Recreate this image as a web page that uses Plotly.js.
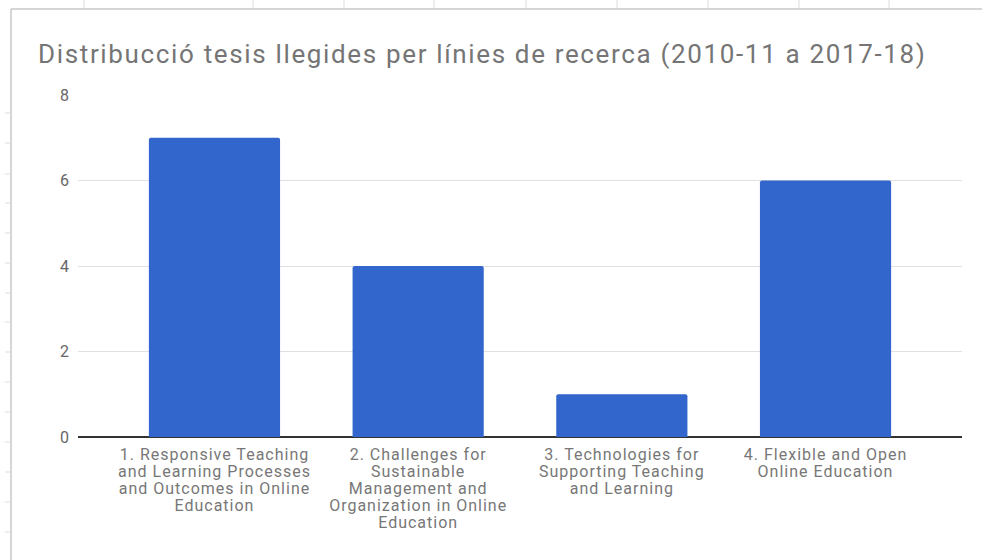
<!DOCTYPE html>
<html>
<head>
<meta charset="utf-8">
<script src="https://cdn.plot.ly/plotly-3.0.1.min.js"></script>
<style>
html,body{margin:0;padding:0;background:#fff;}
#chart{width:982px;height:560px;}
#chart .gtitle{letter-spacing:1.65px;}
#chart .xtick text{letter-spacing:1px;}
</style>
</head>
<body>
<div id="chart"></div>
<script>
const categories = [
  "1. Responsive Teaching<br>and Learning Processes<br>and Outcomes in Online<br>Education",
  "2. Challenges for<br>Sustainable<br>Management and<br>Organization in Online<br>Education",
  "3. Technologies for<br>Supporting Teaching<br>and Learning",
  "4. Flexible and Open<br>Online Education"
];
const values = [7, 4, 1, 6];
const yTicks = [0, 2, 4, 6, 8];

const W = 982, H = 560, L = 78, R = 20, T = 95, B = 123;
const pw = W - L - R, ph = H - T - B;
const px = x => (x - L) / pw;
const py = y => (H - B - y) / ph;

const gridCol = "#c8c8c8";
const shapes = [
  {type: "line", xref: "paper", yref: "paper", x0: px(11), x1: px(982), y0: py(9), y1: py(9), line: {color: gridCol, width: 1.5}},
  {type: "line", xref: "paper", yref: "paper", x0: px(11), x1: px(11), y0: py(9), y1: py(560), line: {color: gridCol, width: 1.5}}
];
[84, 253, 344, 434, 526, 617, 708, 799, 889].forEach(x => shapes.push(
  {type: "line", xref: "paper", yref: "paper", x0: px(x), x1: px(x), y0: py(0), y1: py(8), line: {color: "#dddddd", width: 1}}));
[113, 143, 174, 203, 233, 263, 293, 322, 352, 382, 412, 442, 472, 502, 532].forEach(y => shapes.push(
  {type: "line", xref: "paper", yref: "paper", x0: px(5), x1: px(10), y0: py(y), y1: py(y), line: {color: "#dddddd", width: 1}}));

const trace = {
  type: "bar",
  x: [0, 1, 2, 3],
  y: values,
  width: 0.644,
  marker: {color: "#3366cc", cornerradius: 2},
  hoverinfo: "none"
};

const layout = {
  width: W, height: H,
  margin: {l: L, r: R, t: T, b: B, pad: 0},
  paper_bgcolor: "#ffffff",
  plot_bgcolor: "#ffffff",
  font: {family: "Roboto, Arial, sans-serif"},
  title: {
    text: "Distribucció tesis llegides per línies de recerca (2010-11 a 2017-18)",
    x: 38 / W, xref: "container", xanchor: "left",
    y: 1 - 53.5 / H, yref: "container", yanchor: "middle",
    font: {family: "Roboto, Arial, sans-serif", size: 26, color: "#757575"}
  },
  xaxis: {
    range: [-0.67, 3.67],
    tickmode: "array",
    tickvals: [0, 1, 2, 3],
    ticktext: categories,
    tickfont: {size: 16, color: "#777777"},
    showgrid: false, zeroline: false, showline: false, ticks: "",
    tickangle: 0, ticklabelstandoff: 6
  },
  yaxis: {
    range: [0, 8],
    tickmode: "array",
    tickvals: yTicks,
    ticktext: yTicks.map(String),
    tickfont: {size: 16, color: "#666666"},
    gridcolor: "#e0e0e0", gridwidth: 1,
    zeroline: true, zerolinecolor: "#333333", zerolinewidth: 1.5,
    showline: false, ticks: "", ticklabelstandoff: 8
  },
  shapes: shapes,
  showlegend: false,
  bargap: 0.3
};

Plotly.newPlot("chart", [trace], layout, {displayModeBar: false, staticPlot: true}).then(gd => {
  // tighten multi-line tick label spacing to match the reference
  gd.querySelectorAll(".xtick text tspan.line").forEach(t => {
    const dy = parseFloat(t.getAttribute("dy"));
    if (!isNaN(dy)) t.setAttribute("dy", (dy * 1.07 / 1.3) + "em");
  });
});
</script>
</body>
</html>
